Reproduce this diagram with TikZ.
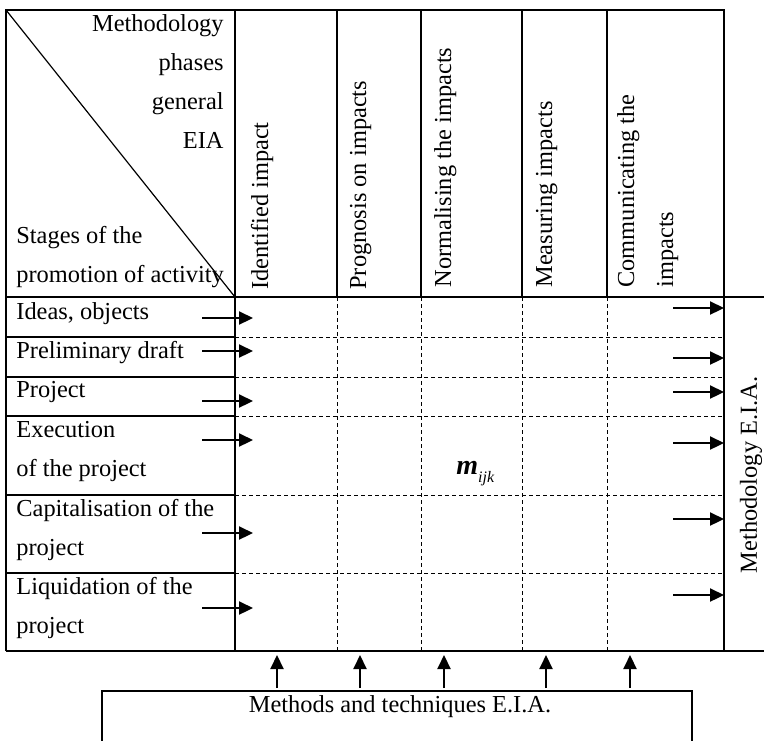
\documentclass[tikz,border=0pt]{standalone}
\usepackage{fontspec}
\setmainfont{Liberation Serif}
\usepackage{xcolor}
\usepackage{tikz}
\usetikzlibrary{arrows.meta}
\definecolor{ink}{HTML}{000000}
\tikzset{
  ar/.style={-{Triangle[length=7pt,width=6.5pt]},line width=1.1pt,ink},
  gl/.style={ink,line width=0.6pt},
  dl/.style={ink,line width=0.5pt,dash pattern=on 2pt off 1.5pt},
  txt/.style={inner sep=0pt,align=left,font=\fontsize{12.2}{19.5}\selectfont},
  vt/.style={txt,rotate=90,anchor=base west}
}
\begin{document}
\begin{tikzpicture}[x=0.5pt,y=-0.5pt]
\useasboundingbox (0,0) rectangle (764,740);
% table frame
\draw[gl] (6,651) -- (6,10) -- (724,10) -- (724,651);
\draw[gl] (6,297) -- (764,297);
\draw[gl] (6,651) -- (764,651);
\draw[gl] (235,10) -- (235,651);
\draw[gl] (6,10) -- (235,297);
\foreach \x in {337,421,522,607}{
  \draw[gl] (\x,10) -- (\x,297);
  \draw[dl] (\x,297) -- (\x,651);}
\foreach \y in {337,377,416,495,573}{
  \draw[gl] (6,\y) -- (235,\y);
  \draw[dl] (235,\y) -- (724,\y);}
% header (base = last line)
\node[txt,anchor=base east,align=right] (phase) at (224,148) {Methodology\\phases\\general\\EIA};
\node[txt,anchor=base west] (stage) at (16,282) {Stages of the\\promotion of activity};
\node[vt] (c1) at (268,290) {Identified impact};
\node[vt] (c2) at (366,290) {Prognosis on impacts};
\node[vt] (c3) at (451,288) {Normalising the impacts};
\node[vt] (c4) at (552,288) {Measuring impacts};
\node[vt] (c5) at (673,288) {Communicating the\\impacts};
% stages
\foreach \y/\t [count=\i] in {319/{Ideas, objects},358/{Preliminary draft},397/{Project},
  476/{Execution\\of the project},555/{Capitalisation of the\\project},633/{Liquidation of the\\project}}
  {\node[txt,anchor=base west] (r\i) at (16,\y) {\t};}
\node[txt,anchor=base west] (mijk) at (456,474) {\fontsize{14}{16}\selectfont\textbf{\textit{m}}\raisebox{-4pt}{\fontsize{8}{9}\selectfont\textit{ijk}}};
\node[txt,rotate=90] (meth) at (751,475) {Methodology E.I.A.};
% methods box
\draw[gl] (102,760) -- (102,691) -- (692,691) -- (692,760);
\node[txt,anchor=base] (mt) at (400,712) {Methods and techniques E.I.A.};
% arrows
\foreach \y [count=\i] in {318,351,401,440,533,608}{
  \coordinate (la\i) at (202,\y); \coordinate (lb\i) at (253,\y);
  \draw[ar] (la\i) -- (lb\i);}
\foreach \y [count=\i] in {308,358,392,443,519,595}{
  \coordinate (ra\i) at (673,\y); \coordinate (rb\i) at (724,\y);
  \draw[ar] (ra\i) -- (rb\i);}
\foreach \x [count=\i] in {277,360,444,546,630}{
  \coordinate (ba\i) at (\x,688); \coordinate (bb\i) at (\x,655);
  \draw[ar] (ba\i) -- (bb\i);}
\end{tikzpicture}
\end{document}
